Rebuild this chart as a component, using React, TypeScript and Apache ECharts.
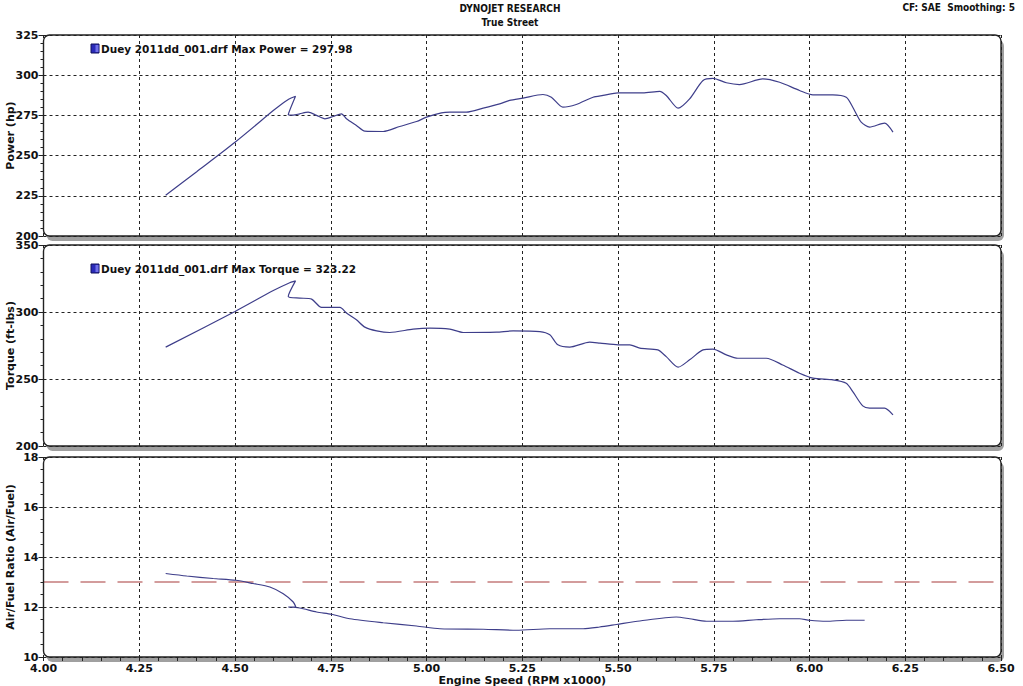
import React, { useEffect, useRef } from "react";
import * as echarts from "echarts";

// ---- Data (RPM x1000, value) ----
const powerData: number[][] = [
  [4.319, 225.3], [4.40, 240.0], [4.50, 258.3], [4.60, 278.0], [4.617, 281.2], [4.64, 285.0], [4.658, 286.9],
  [4.639, 275.4], [4.652, 275.2], [4.669, 276.0], [4.691, 277.0], [4.713, 275.0], [4.735, 272.9], [4.756, 274.3],
  [4.778, 276.0], [4.791, 272.9], [4.817, 268.7], [4.839, 265.2], [4.887, 265.0], [4.930, 268.1], [4.974, 271.2],
  [5.000, 273.9], [5.039, 276.6], [5.061, 277.0], [5.104, 277.0], [5.148, 279.5], [5.191, 282.2], [5.217, 284.3],
  [5.252, 285.7], [5.304, 288.0], [5.326, 286.3], [5.356, 280.1], [5.391, 281.8], [5.435, 286.3], [5.461, 287.4],
  [5.500, 289.0], [5.565, 289.0], [5.609, 290.0], [5.626, 287.4], [5.657, 279.5], [5.687, 285.3], [5.722, 296.7],
  [5.748, 298.0], [5.783, 295.3], [5.817, 294.2], [5.878, 297.7], [5.922, 295.6], [5.974, 290.5], [6.009, 287.8],
  [6.061, 287.8], [6.096, 286.3], [6.113, 280.1], [6.135, 270.8], [6.157, 267.7], [6.196, 270.2], [6.218, 264.6],
];

const torqueData: number[][] = [
  [4.319, 273.8], [4.50, 300.4], [4.60, 316.0], [4.64, 321.5], [4.658, 323.2], [4.639, 311.6], [4.669, 310.4],
  [4.700, 309.6], [4.726, 303.4], [4.774, 303.4], [4.791, 299.2], [4.817, 294.2], [4.839, 288.7], [4.870, 285.9],
  [4.904, 284.7], [4.965, 287.2], [5.009, 288.0], [5.061, 287.2], [5.096, 284.7], [5.183, 285.0], [5.226, 285.9],
  [5.296, 285.4], [5.322, 283.0], [5.343, 275.5], [5.374, 273.8], [5.426, 277.5], [5.453, 276.8], [5.500, 275.5],
  [5.531, 275.5], [5.557, 273.0], [5.604, 271.7], [5.626, 266.7], [5.657, 258.8], [5.687, 264.3], [5.722, 271.7],
  [5.748, 272.3], [5.783, 268.0], [5.813, 265.5], [5.887, 265.5], [5.930, 260.5], [5.974, 254.3], [6.009, 250.6],
  [6.061, 249.3], [6.096, 246.8], [6.113, 240.6], [6.139, 229.9], [6.157, 228.2], [6.196, 228.2], [6.218, 223.2],
];

const afrData: number[][] = [
  [4.319, 13.34], [4.374, 13.24], [4.443, 13.14], [4.502, 13.07], [4.547, 12.94], [4.591, 12.8], [4.626, 12.53],
  [4.652, 12.2], [4.659, 12.0], [4.639, 12.0], [4.669, 11.96], [4.713, 11.8], [4.752, 11.71], [4.800, 11.53],
  [4.887, 11.37], [4.974, 11.24], [5.035, 11.13], [5.148, 11.11], [5.235, 11.07], [5.322, 11.13], [5.409, 11.13],
  [5.452, 11.2], [5.496, 11.3], [5.557, 11.44], [5.652, 11.6], [5.687, 11.53], [5.731, 11.43], [5.800, 11.43],
  [5.861, 11.49], [5.922, 11.53], [5.974, 11.53], [6.000, 11.47], [6.044, 11.43], [6.096, 11.47], [6.144, 11.47],
];

const afrTarget = 13.0;
const xMin = 4.0;
const xMax = 6.5;

const titleText = "DYNOJET RESEARCH";
const subtitleText = "True Street";
const cornerText = "CF: SAE  Smoothing: 5";
const powerLegend = "Duey 2011dd_001.drf Max Power = 297.98";
const torqueLegend = "Duey 2011dd_001.drf Max Torque = 323.22";
const yNames = ["Power (hp)", "Torque (ft-lbs)", "Air/Fuel Ratio (Air/Fuel)"];
const xName = "Engine Speed (RPM x1000)";

const FONT = "'DejaVu Sans', Verdana, sans-serif";
const COND = "'DejaVu Sans Condensed', 'DejaVu Sans', sans-serif";
const LINE_COLOR = "#3e3e8a";

const L = 43.5;
const W = 957.5;
const grids = [
  { top: 35, height: 201 },
  { top: 245, height: 201 },
  { top: 457, height: 200 },
];
const yRanges = [
  { min: 200, max: 325, interval: 25, minor: 5 },
  { min: 200, max: 350, interval: 50, minor: 5 },
  { min: 10, max: 18, interval: 2, minor: 4 },
];

export default function App() {
  const ref = useRef<HTMLDivElement>(null);
  useEffect(() => {
    if (!ref.current) return;
    const chart = echarts.init(ref.current, null, { renderer: "svg" });

    const splitLineStyle = { color: "#222", width: 1, type: [3, 3] as any };

    const xAxes = grids.map((_, i) => ({
      type: "value",
      gridIndex: i,
      min: xMin,
      max: xMax,
      interval: 0.25,
      axisLine: { show: false },
      axisTick: { show: i === 2, length: 4, lineStyle: { color: "#222" } },
      minorTick: { show: i === 2, splitNumber: 5, length: 4, lineStyle: { color: "#222" } },
      axisLabel: {
        show: i === 2,
        formatter: (v: number) => v.toFixed(2),
        fontFamily: FONT,
        fontWeight: "bold",
        fontSize: 11,
        color: "#111",
        margin: 6,
      },
      splitLine: { show: true, lineStyle: splitLineStyle },
      name: i === 2 ? xName : "",
      nameLocation: "middle",
      nameGap: 18,
      nameMoveOverlap: false,
      nameTextStyle: { fontFamily: FONT, fontWeight: "bold", fontSize: 11, color: "#111" },
    }));

    const yAxes = grids.map((_, i) => ({
      type: "value",
      gridIndex: i,
      min: yRanges[i].min,
      max: yRanges[i].max,
      interval: yRanges[i].interval,
      axisLine: { show: false },
      axisTick: { show: true, length: 5, lineStyle: { color: "#222" } },
      minorTick: { show: true, splitNumber: yRanges[i].minor, length: 3, lineStyle: { color: "#222" } },
      axisLabel: {
        fontFamily: FONT,
        fontWeight: "bold",
        fontSize: 11,
        lineHeight: 8,
        color: "#111",
        margin: 5,
      },
      splitLine: { show: true, lineStyle: splitLineStyle },
      name: yNames[i],
      nameLocation: "middle",
      nameRotate: 90,
      nameGap: 28,
      nameMoveOverlap: false,
      nameTextStyle: { fontFamily: FONT, fontWeight: "bold", fontSize: 11, color: "#111" },
    }));

    const panelGraphics: any[] = [];
    grids.forEach((g) => {
      panelGraphics.push({
        type: "rect",
        z: -20,
        shape: { x: L + 3, y: g.top + 5, width: W, height: g.height, r: 6 },
        style: { fill: "#a0a0a0" },
        silent: true,
      });
      panelGraphics.push({
        type: "rect",
        z: -19,
        shape: { x: L, y: g.top, width: W, height: g.height, r: 6 },
        style: { fill: "#ffffff" },
        silent: true,
      });
      panelGraphics.push({
        type: "rect",
        z: 50,
        shape: { x: L, y: g.top, width: W, height: g.height, r: 6 },
        style: { fill: "none", stroke: "#222", lineWidth: 1.4 },
        silent: true,
      });
    });

    const legendIcon = (x: number, y: number) => [
      {
        type: "rect",
        z: 60,
        shape: { x, y, width: 8, height: 9 },
        style: { fill: "#2a2ab8", stroke: "#10105a", lineWidth: 1 },
      },
      {
        type: "rect",
        z: 61,
        shape: { x: x + 4.5, y: y + 1, width: 3, height: 7 },
        style: { fill: "#7070e8" },
      },
    ];

    const textBase = { fontFamily: FONT, fontWeight: "bold", fill: "#111" };

    chart.setOption({
      animation: false,
      backgroundColor: "#ffffff",
      grid: grids.map((g) => ({
        left: L,
        width: W,
        top: g.top,
        height: g.height,
        show: false,
        containLabel: false,
        outerBoundsMode: "none",
      })),
      xAxis: xAxes,
      yAxis: yAxes,
      series: [
        {
          type: "line",
          xAxisIndex: 0,
          yAxisIndex: 0,
          data: powerData,
          showSymbol: false,
          smooth: 0.25,
          lineStyle: { color: LINE_COLOR, width: 1.2 },
          z: 5,
        },
        {
          type: "line",
          xAxisIndex: 1,
          yAxisIndex: 1,
          data: torqueData,
          showSymbol: false,
          smooth: 0.25,
          lineStyle: { color: LINE_COLOR, width: 1.2 },
          z: 5,
        },
        {
          type: "line",
          xAxisIndex: 2,
          yAxisIndex: 2,
          data: [[xMin, afrTarget], [xMax, afrTarget]],
          showSymbol: false,
          lineStyle: { color: "#a83a3a", width: 1.2, type: [25, 12] as any },
          z: 4,
        },
        {
          type: "line",
          xAxisIndex: 2,
          yAxisIndex: 2,
          data: afrData,
          showSymbol: false,
          smooth: 0.25,
          lineStyle: { color: LINE_COLOR, width: 1.2 },
          z: 5,
        },
      ],
      graphic: [
        ...panelGraphics,
        ...legendIcon(91, 44),
        ...legendIcon(91, 264),
        {
          type: "text",
          z: 60,
          x: 101,
          y: 49,
          style: { ...textBase, text: powerLegend, fontSize: 10.5, verticalAlign: "middle" },
        },
        {
          type: "text",
          z: 60,
          x: 101,
          y: 269,
          style: { ...textBase, text: torqueLegend, fontSize: 10.5, verticalAlign: "middle" },
        },
        {
          type: "text",
          x: 510,
          y: 8,
          style: { ...textBase, fontFamily: COND, text: titleText, fontSize: 10, align: "center", verticalAlign: "middle" },
        },
        {
          type: "text",
          x: 510,
          y: 22,
          style: { ...textBase, fontFamily: COND, text: subtitleText, fontSize: 10, align: "center", verticalAlign: "middle" },
        },
        {
          type: "text",
          x: 1015,
          y: 7,
          style: { ...textBase, fontFamily: COND, text: cornerText, fontSize: 10, align: "right", verticalAlign: "middle" },
        },
      ],
    });
    return () => chart.dispose();
  }, []);

  return (
    <div
      ref={ref}
      style={{ position: "fixed", left: 0, top: 0, width: 1023, height: 686, background: "#fff" }}
    />
  );
}
